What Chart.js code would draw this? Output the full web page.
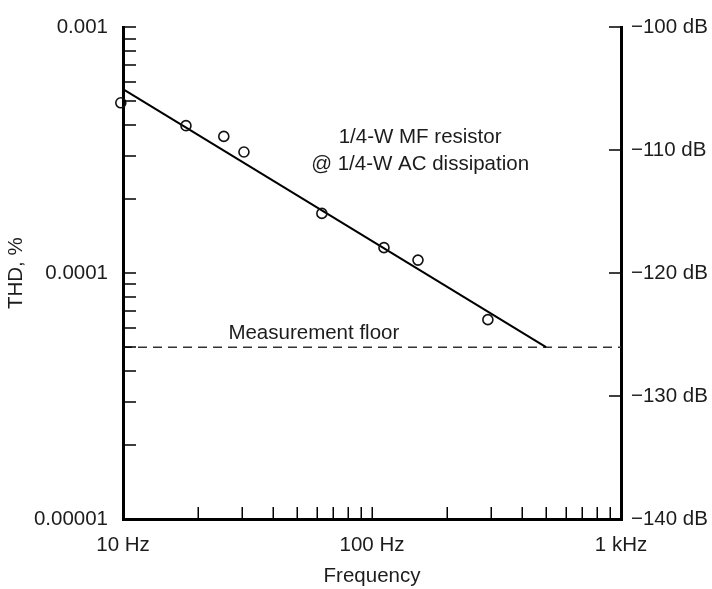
<!DOCTYPE html>
<html>
<head>
<meta charset="utf-8">
<script src="https://cdn.jsdelivr.net/npm/chart.js@4.4.1/dist/chart.umd.min.js"></script>
<style>
  html, body { margin: 0; padding: 0; background: #fff; }
  #wrap { width: 712px; height: 589px; }
</style>
</head>
<body>
<div id="wrap"><canvas id="thd-chart" width="712" height="589"></canvas></div>
<script>
// measured THD points (Hz, %)
const measFreq = [9.8, 17.9, 25.4, 30.6, 62.9, 111.7, 153, 292];
const measThd = [0.000493, 0.000398, 0.00036, 0.000311, 0.000175, 0.000127, 0.000113, 0.0000647];

// fitted trend line and measurement floor
const fitFreq = [10, 500];
const fitThd = [0.00056, 0.00005];
const floorFreq = [10, 1000];
const floorThd = [0.00005, 0.00005];

// axis ticks
const xTicks = [10, 20, 30, 40, 50, 60, 70, 80, 90, 100, 200, 300, 400, 500, 600, 700, 800, 900, 1000];
const xMajor = [10, 100, 1000];
const xLabels = ['10 Hz', '100 Hz', '1 kHz'];
const yTicks = [0.00001, 0.00002, 0.00003, 0.00004, 0.00005, 0.00006, 0.00007, 0.00008, 0.00009,
  0.0001, 0.0002, 0.0003, 0.0004, 0.0005, 0.0006, 0.0007, 0.0008, 0.0009, 0.001];
const yMajor = [0.00001, 0.0001, 0.001];
const yLabels = ['0.00001', '0.0001', '0.001'];
const dbTicks = [-140, -130, -120, -110, -100];
const dbLabels = ['\u2212140 dB', '\u2212130 dB', '\u2212120 dB', '\u2212110 dB', '\u2212100 dB'];

const noteLines = ['1/4-W MF resistor', '@ 1/4-W AC dissipation'];
const floorText = 'Measurement floor';

const FONT = '"Liberation Sans", Arial, Helvetica, sans-serif';
const FSIZE = 20.5;
const TEXT = '#1c1c1c';

function pairs(xs, ys) { return xs.map((x, i) => ({ x, y: ys[i] })); }
function findIdx(arr, v) { return arr.findIndex(a => Math.abs(a - v) / Math.abs(a) < 1e-6); }

// short tick marks drawn inside the frame, plus the text notes
const innerTicks = {
  id: 'innerTicks',
  afterDraw(chart) {
    const { ctx, chartArea: a, scales } = chart;
    const x = scales.x, y = scales.y, y2 = scales.y2;
    ctx.save();
    ctx.strokeStyle = '#000';
    ctx.lineWidth = 1.5;
    ctx.beginPath();
    xTicks.forEach(v => {
      if (v === 10 || v === 1000) return;
      const px = Math.round(x.getPixelForValue(v)) + 0.25;
      ctx.moveTo(px, a.bottom);
      ctx.lineTo(px, a.bottom - 12);
    });
    yTicks.forEach(v => {
      if (v === 0.00001) return;
      const py = Math.round(y.getPixelForValue(v));
      ctx.moveTo(a.left, py);
      ctx.lineTo(a.left + 13, py);
    });
    dbTicks.forEach(v => {
      if (v === -140) return;
      const py = Math.round(y2.getPixelForValue(v));
      ctx.moveTo(a.right, py);
      ctx.lineTo(a.right - 12, py);
    });
    ctx.stroke();

    ctx.fillStyle = TEXT;
    ctx.font = FSIZE + 'px ' + FONT;
    ctx.textBaseline = 'middle';
    ctx.textAlign = 'center';
    const nx = x.getPixelForValue(156);
    const ny = y.getPixelForValue(0.000358);
    noteLines.forEach((t, i) => ctx.fillText(t, nx, ny + i * 27));
    ctx.textAlign = 'left';
    ctx.fillText(floorText, x.getPixelForValue(26.5), y.getPixelForValue(floorThd[0]) - 14);
    ctx.restore();
  }
};

new Chart(document.getElementById('thd-chart').getContext('2d'), {
  type: 'line',
  data: {
    datasets: [
      {
        label: 'Measured',
        data: pairs(measFreq, measThd),
        showLine: false,
        pointStyle: 'circle',
        pointRadius: 5,
        pointBorderWidth: 1.6,
        pointBorderColor: '#111',
        pointBackgroundColor: 'rgba(0,0,0,0)',
        clip: false
      },
      {
        label: 'Fit',
        data: pairs(fitFreq, fitThd),
        borderColor: '#000',
        borderWidth: 2,
        pointRadius: 0,
        clip: false
      },
      {
        label: 'Floor',
        data: pairs(floorFreq, floorThd),
        borderColor: '#333',
        borderWidth: 1.5,
        borderDash: [9, 6],
        pointRadius: 0
      }
    ]
  },
  options: {
    responsive: false,
    animation: false,
    layout: { padding: { top: 20, left: 0, right: 0, bottom: 0 } },
    plugins: { legend: { display: false }, tooltip: { enabled: false } },
    scales: {
      x: {
        type: 'logarithmic',
        position: 'bottom',
        min: 10,
        max: 1000,
        afterBuildTicks: s => { s.ticks = xMajor.map(v => ({ value: v })); },
        afterFit: s => { s.height = 70; },
        grid: { drawOnChartArea: false, drawTicks: false, lineWidth: 3 },
        border: { display: true, width: 3, color: '#000' },
        ticks: {
          autoSkip: false, maxRotation: 0, padding: 14,
          color: TEXT, font: { family: FONT, size: FSIZE },
          callback: v => { const i = findIdx(xMajor, v); return i >= 0 ? xLabels[i] : ''; }
        },
        title: {
          display: true, text: 'Frequency', color: TEXT,
          font: { family: FONT, size: FSIZE }, padding: { top: 0, bottom: 0 }
        }
      },
      y: {
        type: 'logarithmic',
        position: 'left',
        min: 0.00001,
        max: 0.001,
        afterBuildTicks: s => { s.ticks = yMajor.map(v => ({ value: v })); },
        afterFit: s => { s.width = 123; },
        grid: { drawOnChartArea: false, drawTicks: false, lineWidth: 3 },
        border: { display: true, width: 3, color: '#000' },
        ticks: {
          autoSkip: false, padding: 15,
          color: TEXT, font: { family: FONT, size: FSIZE },
          callback: v => { const i = findIdx(yMajor, v); return i >= 0 ? yLabels[i] : ''; }
        },
        title: {
          display: true, text: 'THD, %', color: TEXT,
          font: { family: FONT, size: FSIZE }, padding: { top: 4, bottom: 0 }
        }
      },
      y2: {
        type: 'linear',
        position: 'right',
        min: -140,
        max: -100,
        afterBuildTicks: s => { s.ticks = dbTicks.map(v => ({ value: v })); },
        afterFit: s => { s.width = 91; },
        grid: { drawOnChartArea: false, drawTicks: false, lineWidth: 3 },
        border: { display: true, width: 3, color: '#000' },
        ticks: {
          autoSkip: false, padding: 10,
          color: TEXT, font: { family: FONT, size: FSIZE },
          callback: v => { const i = findIdx(dbTicks, v); return i >= 0 ? dbLabels[i] : ''; }
        }
      }
    }
  },
  plugins: [innerTicks]
});
</script>
</body>
</html>
